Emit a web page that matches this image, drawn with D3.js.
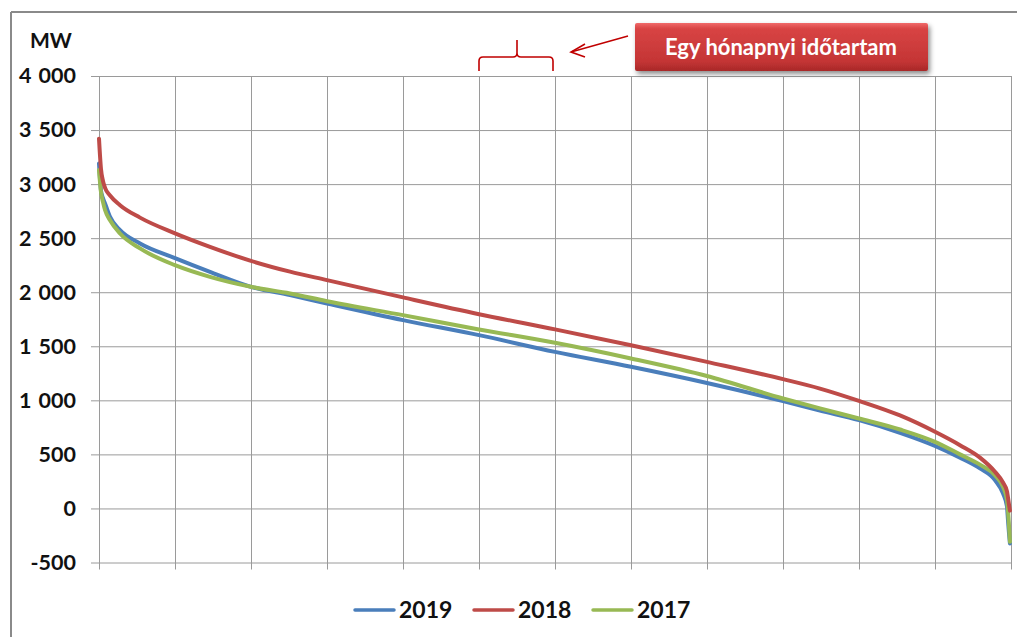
<!DOCTYPE html>
<html>
<head>
<meta charset="utf-8">
<script src="https://cdn.jsdelivr.net/npm/d3@7"></script>
<style>
  html, body { margin: 0; padding: 0; background: #fff; }
  svg { display: block; font-family: Lato, "Open Sans", sans-serif; }
</style>
</head>
<body>
<svg id="chart" width="1017" height="637"></svg>
<script>
// ---- data ----
const hours = [0, 19, 38, 58, 106, 202, 394, 730, 1066, 1460, 1835, 2190, 2920, 3650, 4380, 5110, 5840, 6570, 6925, 7300, 7694, 8030, 8270, 8462, 8606, 8683, 8721, 8731, 8740, 8750];
const mw2019 = [3190, 2942, 2870, 2821, 2697, 2574, 2451, 2315, 2188, 2050, 1973, 1896, 1742, 1603, 1448, 1310, 1160, 993, 905, 817, 700, 579, 470, 370, 262, 139, 20, -108, -220, -324];
const mw2018 = [3420, 3140, 3030, 2965, 2895, 2805, 2690, 2545, 2420, 2290, 2190, 2112, 1952, 1797, 1656, 1510, 1356, 1196, 1109, 995, 860, 709, 585, 470, 339, 240, 160, 100, 40, -20];
const mw2017 = [3130, 2926, 2836, 2760, 2666, 2543, 2405, 2250, 2142, 2050, 1989, 1917, 1788, 1656, 1532, 1387, 1225, 1017, 925, 832, 730, 616, 500, 405, 308, 200, 80, -16, -150, -309];
const seriesNames = ["2019", "2018", "2017"];
const seriesColors = ["#4A7EBB", "#BE4B48", "#98B954"];
const yTicks = [-500, 0, 500, 1000, 1500, 2000, 2500, 3000, 3500, 4000];
const monthTicks = [0, 730, 1460, 2190, 2920, 3650, 4380, 5110, 5840, 6570, 7300, 8030, 8760];
const unitLabel = "MW";
const annotationText = "Egy hónapnyi időtartam";

const series = [mw2019, mw2018, mw2017].map((vals, i) => ({
  name: seriesNames[i], color: seriesColors[i],
  points: hours.map((h, j) => [h, vals[j]])
}));

// ---- layout ----
const svg = d3.select("#chart");
const x = d3.scaleLinear().domain([0, 8760]).range([99, 1011]);
const y = d3.scaleLinear().domain([-500, 4000]).range([562.5, 76]);

const loc = d3.formatLocale({decimal: ",", thousands: "\u2004", grouping: [3], currency: ["", ""], minus: "-"});
const fmt = loc.format(",d");

// outer chart border
svg.append("line").attr("x1", 11).attr("x2", 1017).attr("y1", 12).attr("y2", 12).attr("stroke", "#8a8a8a").attr("stroke-width", 2);
svg.append("line").attr("x1", 11).attr("x2", 11).attr("y1", 12).attr("y2", 637).attr("stroke", "#8a8a8a").attr("stroke-width", 2);

// horizontal gridlines + y labels
const gy = svg.append("g").attr("transform", `translate(${x(0)},0)`)
  .call(d3.axisLeft(y).tickValues(yTicks).tickFormat(fmt).tickSize(8).tickPadding(15));
gy.select(".domain").remove();
gy.selectAll(".tick line").attr("stroke", "#9a9a9a").attr("x2", x(8760) - x(0)).attr("x1", -8);
gy.selectAll(".tick text").attr("font-size", 21.5).attr("font-weight", "bold").attr("fill", "#111").attr("font-family", "Lato, sans-serif");

// vertical gridlines
const gx = svg.append("g").attr("transform", `translate(0,${y(-500)})`)
  .call(d3.axisBottom(x).tickValues(monthTicks).tickFormat("").tickSize(7));
gx.select(".domain").remove();
gx.selectAll(".tick line").attr("stroke", "#9a9a9a").attr("y1", y(4000) - y(-500)).attr("y2", 7);

// unit label
svg.append("text").attr("x", 30).attr("y", 48).text(unitLabel)
  .attr("font-size", 21).attr("font-weight", "bold").attr("fill", "#111");

// lines
const line = d3.line().x(d => x(d[0])).y(d => y(d[1])).curve(d3.curveMonotoneX);
const order = [0, 2, 1];
order.forEach(i => {
  const s = series[i];
  svg.append("path").datum(s.points).attr("d", line)
    .attr("fill", "none").attr("stroke", s.color).attr("stroke-width", 4)
    .attr("stroke-linejoin", "round").attr("stroke-linecap", "round");
});

// legend
const legendX = [355, 474, 593];
series.forEach((s, i) => {
  const g = svg.append("g").attr("transform", `translate(${legendX[i]},610)`);
  g.append("line").attr("x1", 0).attr("x2", 39).attr("y1", 0).attr("y2", 0)
    .attr("stroke", s.color).attr("stroke-width", 3.5).attr("stroke-linecap", "round");
  g.append("text").attr("x", 44).attr("y", 8).text(s.name)
    .attr("font-size", 23).attr("font-weight", "bold").attr("fill", "#111");
});

// annotation: brace, arrow, box
const dr = "#C00000";
svg.append("path")
  .attr("d", "M479,71 L479,61 Q479,57 483,57 L513,57 Q517,57 517,53 L517,40 M517,53 Q517,57 521,57 L549,57 Q553,57 553,61 L553,71")
  .attr("fill", "none").attr("stroke", dr).attr("stroke-width", 1.6);
svg.append("path").attr("d", "M628,36 L571,52").attr("stroke", dr).attr("stroke-width", 1.6).attr("fill", "none");
svg.append("path").attr("d", "M585,44 L571,52 L585,57").attr("stroke", dr).attr("stroke-width", 1.6).attr("fill", "none");

const defs = svg.append("defs");
const grad = defs.append("linearGradient").attr("id", "boxg").attr("x1", 0).attr("x2", 0).attr("y1", 0).attr("y2", 1);
grad.append("stop").attr("offset", "0%").attr("stop-color", "#F06A6A");
grad.append("stop").attr("offset", "12%").attr("stop-color", "#D84444");
grad.append("stop").attr("offset", "80%").attr("stop-color", "#C43535");
grad.append("stop").attr("offset", "100%").attr("stop-color", "#A82828");
const filt = defs.append("filter").attr("id", "sh").attr("x", "-10%").attr("y", "-20%").attr("width", "130%").attr("height", "160%");
filt.append("feDropShadow").attr("dx", 2).attr("dy", 3).attr("stdDeviation", 2.5).attr("flood-color", "#000").attr("flood-opacity", 0.45);

svg.append("rect").attr("x", 635).attr("y", 23).attr("width", 293).attr("height", 48).attr("rx", 2)
  .attr("fill", "url(#boxg)").attr("filter", "url(#sh)");
svg.append("text").attr("x", 781).attr("y", 55).attr("text-anchor", "middle").text(annotationText)
  .attr("font-size", 22).attr("font-weight", "bold").attr("fill", "#fff");
</script>
</body>
</html>
